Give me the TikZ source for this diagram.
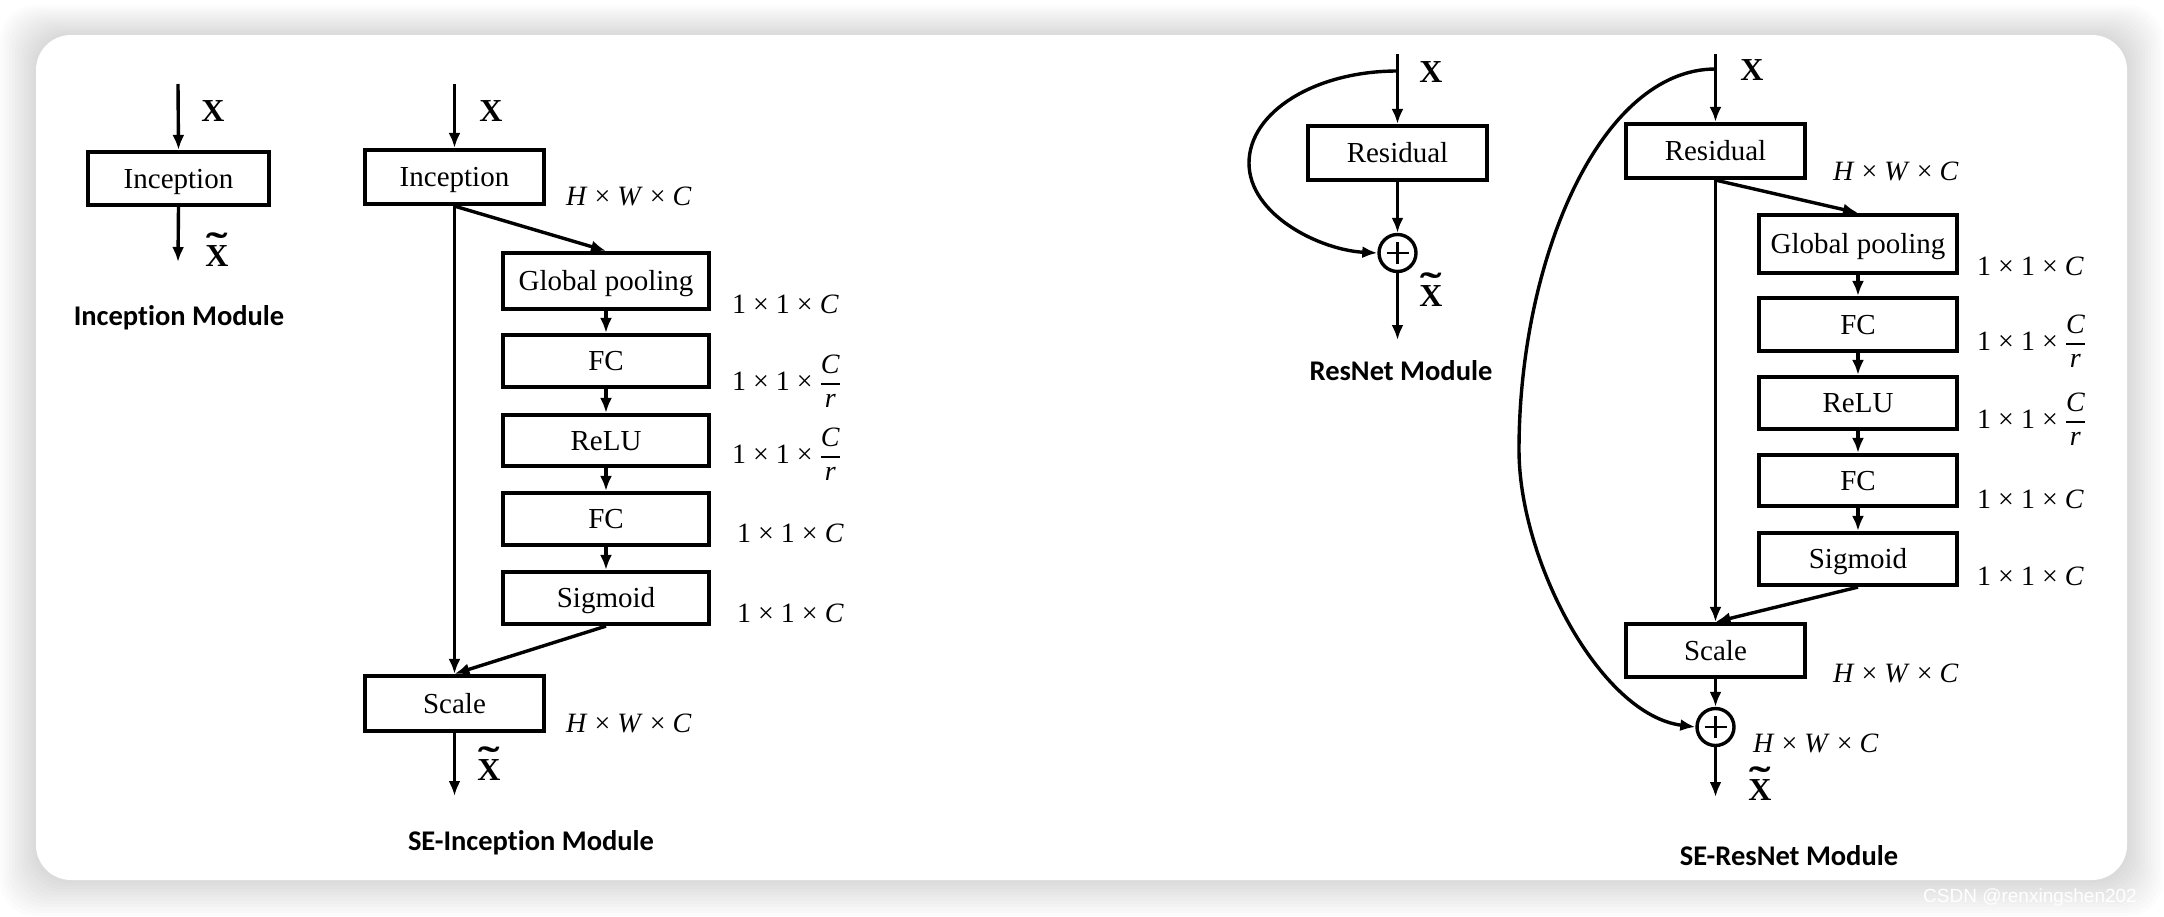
\documentclass[tikz,border=0pt]{standalone}
\usepackage{amsmath}
\usepackage{graphicx}
\usepackage{fontspec}
\setmainfont{Liberation Serif}
\newfontfamily\titlef{Carlito}[Ligatures=NoCommon]
\newfontfamily\wmf{Liberation Sans}
\usetikzlibrary{arrows.meta}
\newcommand\hwcl{\textit{H} × \textit{W} × \textit{C}}
\newcommand\oneC{1 × 1 × \textit{C}}
\newcommand\oneCr{1 × 1 × $\genfrac{}{}{2.2pt}{0}{\mbox{\itshape C}}{\mbox{\itshape r}}$}
\newcommand\xtil{\ooalign{\bfseries X\cr\hidewidth\raisebox{7pt}{\scalebox{2}[1.2]{\bfseries ˜}}\hidewidth\cr}}
\tikzset{
 blk/.style={draw, line width=4.2pt, inner sep=0pt, text height=19pt, text depth=0pt, font=\fontsize{29}{34}\selectfont},
 conn/.style={line width=3.4pt, -{Latex[length=15pt,width=12pt]}},
 dimlab/.style={anchor=base west, inner sep=0pt, font=\fontsize{28}{34}\selectfont},
 xlab/.style={inner sep=0pt, font=\fontsize{32}{38}\selectfont\bfseries},
 modtitle/.style={anchor=base, inner sep=0pt, font=\fontsize{28.5}{34}\selectfont\titlef\bfseries},
 sumnode/.style={draw, circle, line width=3.4pt, minimum size=37pt, inner sep=0pt},
 plusbar/.style={line width=2.2pt},
}
\begin{document}
\begin{tikzpicture}[x=1pt,y=-1pt]
\useasboundingbox (0,0) rectangle (2164,916);
% background and card shadow
\fill[white] (0,0) rectangle (2164,916);
\foreach \i in {1,...,12}{
  \fill[black,opacity=0.011,rounded corners=35pt] (36-\i*3,35-\i*2.5) rectangle (2127+\i*3,880+\i*3);
}
\fill[white,rounded corners=35pt] (36,35) rectangle (2127,880);

% ---------------- Inception Module ----------------
\coordinate (in1) at (178,84);
\node[blk, minimum width=181pt, minimum height=53pt] (inc1) at (178.5,178.5) {Inception};
\coordinate (out1) at (178,262);
\draw[conn] (in1) -- (inc1.north);
\draw[conn] (inc1.south) -- (out1);
\node[xlab] (x1) at (213,111) {X};
\node[xlab] (xt1) at (217,256) {\xtil};
\node[modtitle] (t1) at (179,325) {Inception Module};

% ---------------- SE-Inception Module ----------------
\coordinate (in2) at (454.5,84);
\node[blk, minimum width=179pt, minimum height=54pt] (inc2) at (454.5,177) {Inception};
\node[blk, minimum width=206pt, minimum height=56pt] (gp2) at (606,281) {Global pooling};
\node[blk, minimum width=206pt, minimum height=52pt] (fc2) at (606,361) {FC};
\node[blk, minimum width=206pt, minimum height=51pt] (relu2) at (606,440.5) {ReLU};
\node[blk, minimum width=206pt, minimum height=52pt] (fcb2) at (606,519) {FC};
\node[blk, minimum width=206pt, minimum height=52pt] (sig2) at (606,598) {Sigmoid};
\node[blk, minimum width=179pt, minimum height=55pt] (sc2) at (454.5,703.5) {Scale};
\coordinate (out2) at (454.5,796);
\draw[conn] (in2) -- (inc2.north);
\draw[conn] (inc2.south) -- (sc2.north);
\draw[conn] (inc2.south) -- (gp2.north);
\draw[conn] (gp2) -- (fc2);
\draw[conn] (fc2) -- (relu2);
\draw[conn] (relu2) -- (fcb2);
\draw[conn] (fcb2) -- (sig2);
\draw[conn] (sig2.south) -- (sc2.north);
\draw[conn] (sc2.south) -- (out2);
\node[xlab] (x2) at (491,111) {X};
\node[xlab] (xt2) at (489,770) {\xtil};
\node[dimlab] (d2a) at (566,205) {\hwcl};
\node[dimlab] (d2b) at (732,313) {\oneC};
\node[dimlab] (d2c) at (732,390) {\oneCr};
\node[dimlab] (d2d) at (732,463) {\oneCr};
\node[dimlab] (d2e) at (737,542) {\oneC};
\node[dimlab] (d2f) at (737,622) {\oneC};
\node[dimlab] (d2g) at (566,732) {\hwcl};
\node[modtitle] (t2) at (531,850) {SE-Inception Module};

% ---------------- ResNet Module ----------------
\coordinate (in3) at (1397.5,54);
\coordinate (s3) at (1397.5,71);
\node[blk, minimum width=179pt, minimum height=54pt] (res3) at (1397.5,153) {Residual};
\node[sumnode] (c3) at (1397.5,253) {};
\draw[plusbar] ([xshift=-11pt]c3.center) -- ([xshift=11pt]c3.center);
\draw[plusbar] ([yshift=-11pt]c3.center) -- ([yshift=11pt]c3.center);
\coordinate (out3) at (1397.5,340);
\draw[conn] (in3) -- (res3.north);
\draw[conn] (res3.south) -- (c3.north);
\draw[conn] (c3.south) -- (out3);
\draw[conn] (s3) .. controls (1315,71) and (1249,112) .. (1249,163)
               .. controls (1249,215) and (1320,250) .. (c3.west);
\node[xlab] (x3) at (1431,72) {X};
\node[xlab] (xt3) at (1431,296) {\xtil};
\node[modtitle] (t3) at (1401,380) {ResNet Module};

% ---------------- SE-ResNet Module ----------------
\coordinate (in4) at (1715.5,54);
\coordinate (s4) at (1715.5,69);
\node[blk, minimum width=179pt, minimum height=54pt] (res4) at (1715.5,151) {Residual};
\node[blk, minimum width=198pt, minimum height=58pt] (gp4) at (1858,244) {Global pooling};
\node[blk, minimum width=198pt, minimum height=53pt] (fc4) at (1858,324.5) {FC};
\node[blk, minimum width=198pt, minimum height=52pt] (relu4) at (1858,403) {ReLU};
\node[blk, minimum width=198pt, minimum height=51pt] (fcb4) at (1858,480.5) {FC};
\node[blk, minimum width=198pt, minimum height=52pt] (sig4) at (1858,559) {Sigmoid};
\node[blk, minimum width=179pt, minimum height=53pt] (sc4) at (1715.5,650.5) {Scale};
\node[sumnode] (c4) at (1715.5,727) {};
\draw[plusbar] ([xshift=-11pt]c4.center) -- ([xshift=11pt]c4.center);
\draw[plusbar] ([yshift=-11pt]c4.center) -- ([yshift=11pt]c4.center);
\coordinate (out4) at (1715.5,797);
\draw[conn] (in4) -- (res4.north);
\draw[conn] (res4.south) -- (sc4.north);
\draw[conn] (res4.south) -- (gp4.north);
\draw[conn] (gp4) -- (fc4);
\draw[conn] (fc4) -- (relu4);
\draw[conn] (relu4) -- (fcb4);
\draw[conn] (fcb4) -- (sig4);
\draw[conn] (sig4.south) -- (sc4.north);
\draw[conn] (sc4.south) -- (c4.north);
\draw[conn] (c4.south) -- (out4);
\draw[conn] (s4) .. controls (1600,69) and (1519,260) .. (1519,450)
               .. controls (1519,560) and (1600,715) .. (c4.west);
\node[xlab] (x4) at (1752,70) {X};
\node[xlab] (xt4) at (1760,790) {\xtil};
\node[dimlab] (d4a) at (1833,180) {\hwcl};
\node[dimlab] (d4b) at (1977,275) {\oneC};
\node[dimlab] (d4c) at (1977,350) {\oneCr};
\node[dimlab] (d4d) at (1977,428) {\oneCr};
\node[dimlab] (d4e) at (1977,508) {\oneC};
\node[dimlab] (d4f) at (1977,585) {\oneC};
\node[dimlab] (d4g) at (1833,682) {\hwcl};
\node[dimlab] (d4h) at (1753,752) {\hwcl};
\node[modtitle] (t4) at (1789,865) {SE-ResNet Module};

% watermark
\node[anchor=base west, inner sep=0pt, text=white, font=\wmf\fontsize{19}{22}\selectfont] (wm) at (1923,902) {CSDN @renxingshen202};
\end{tikzpicture}
\end{document}
